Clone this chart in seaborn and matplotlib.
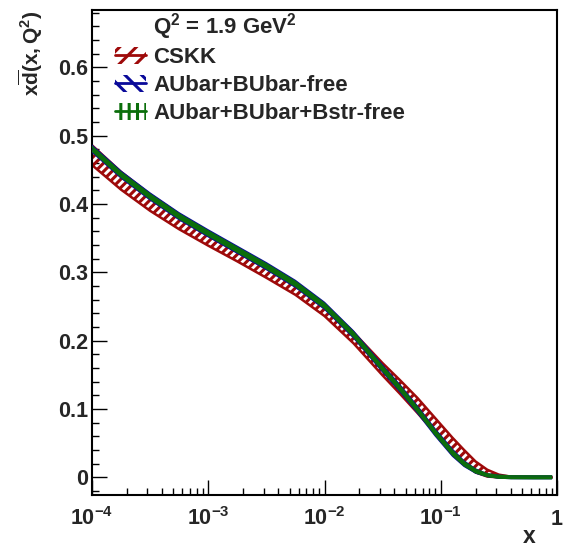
import matplotlib
matplotlib.use("Agg")
import numpy as np
import pandas as pd
import matplotlib.pyplot as plt
from matplotlib.patches import Patch
from matplotlib.lines import Line2D
from matplotlib.ticker import FixedLocator, FixedFormatter, LogLocator, NullFormatter, MultipleLocator
import seaborn as sns

# ---- data: xdbar(x, Q^2) at Q^2 = 1.9 GeV^2 ----
x_grid = [1e-4, 1.778e-4, 3.162e-4, 5.623e-4, 1e-3, 1.778e-3, 3.162e-3, 5.623e-3,
          0.01, 0.01778, 0.03162, 0.04467, 0.0631, 0.0891, 0.1259, 0.1585,
          0.1995, 0.2512, 0.3162, 0.3981, 0.631, 0.9]

cskk_central = [0.4715, 0.434, 0.402, 0.374, 0.349, 0.325, 0.301, 0.275,
                0.244, 0.204, 0.158, 0.132, 0.105, 0.076, 0.047, 0.030,
                0.015, 0.006, 0.0018, 0.0004, 0.0, 0.0]
cskk_err = [0.0145, 0.013, 0.012, 0.011, 0.010, 0.009, 0.009, 0.008,
            0.008, 0.008, 0.009, 0.010, 0.011, 0.011, 0.011, 0.010,
            0.008, 0.005, 0.002, 0.0006, 0.0, 0.0]

free_central = [0.481, 0.443, 0.411, 0.382, 0.357, 0.333, 0.309, 0.283,
                0.251, 0.209, 0.159, 0.130, 0.099, 0.066, 0.036, 0.020,
                0.009, 0.003, 0.0008, 0.0001, 0.0, 0.0]
free_err = [0.005, 0.005, 0.005, 0.005, 0.005, 0.005, 0.005, 0.005,
            0.005, 0.005, 0.005, 0.005, 0.005, 0.005, 0.005, 0.004,
            0.003, 0.002, 0.002, 0.002, 0.002, 0.002]

bstr_central = [0.481, 0.443, 0.411, 0.382, 0.357, 0.333, 0.309, 0.283,
                0.251, 0.209, 0.159, 0.130, 0.099, 0.066, 0.036, 0.020,
                0.009, 0.003, 0.0008, 0.0001, 0.0, 0.0]
bstr_err = [0.0035, 0.0035, 0.0035, 0.0035, 0.0035, 0.0035, 0.0035, 0.0035,
            0.0035, 0.0035, 0.0035, 0.0035, 0.0035, 0.0035, 0.0035, 0.003,
            0.0025, 0.002, 0.002, 0.002, 0.002, 0.002]

series_names = ["CSKK", "AUbar+BUbar-free", "AUbar+BUbar+Bstr-free"]
series_colors = ["#9e0a0a", "#0a0a9a", "#0b6e0b"]
series_hatches = ["//", "\\\\", "||"]

x_tick_values = [1e-4, 1e-3, 1e-2, 1e-1, 1]
x_tick_labels = [r"$10^{-4}$", r"$10^{-3}$", r"$10^{-2}$", r"$10^{-1}$", r"$1$"]
y_tick_values = [0, 0.1, 0.2, 0.3, 0.4, 0.5, 0.6]
y_tick_labels = ["0", "0.1", "0.2", "0.3", "0.4", "0.5", "0.6"]

header_text = r"Q$^{2}$ = 1.9 GeV$^{2}$"
y_title = r"$x\overline{d}(x,Q^{2})$"
x_title = "x"

# ---- style ----
sns.set_theme(style="ticks")
plt.rcParams["font.family"] = ["Liberation Sans", "DejaVu Sans"]
plt.rcParams["font.weight"] = "bold"
plt.rcParams["mathtext.fontset"] = "custom"
plt.rcParams["mathtext.rm"] = "Liberation Sans:bold"
plt.rcParams["mathtext.bf"] = "Liberation Sans:bold"
plt.rcParams["mathtext.it"] = "Liberation Sans:bold"
plt.rcParams["mathtext.default"] = "bf"
plt.rcParams["hatch.linewidth"] = 2.2
plt.rcParams["axes.linewidth"] = 1.5

fig = plt.figure(figsize=(5.63, 5.49), dpi=100)
ax = fig.add_axes([92 / 563, 1 - 495 / 549, 465 / 563, 485 / 549])

bands = pd.DataFrame({
    "x": x_grid * 3,
    "central": cskk_central + free_central + bstr_central,
    "err": cskk_err + free_err + bstr_err,
    "fit": sum([[n] * len(x_grid) for n in series_names], []),
})
bands["lo"] = bands["central"] - bands["err"]
bands["hi"] = bands["central"] + bands["err"]

for z, (name, color, hatch) in enumerate(zip(series_names, series_colors, series_hatches)):
    d = bands[bands["fit"] == name]
    if name == series_names[2]:
        ax.fill_between(d["x"], d["lo"], d["hi"], facecolor=color, edgecolor=color,
                        linewidth=0, zorder=2 + z)
        edge_lw = 1.0
    elif name == series_names[1]:
        ax.fill_between(d["x"], d["lo"], d["hi"], facecolor=color, edgecolor=color,
                        linewidth=0, zorder=2 + z)
        edge_lw = 1.0
    else:
        ax.fill_between(d["x"], d["lo"], d["hi"], facecolor="none", edgecolor=color,
                        hatch="////", linewidth=0, zorder=2 + z)
        edge_lw = 1.8
    for edge in ("lo", "hi"):
        sns.lineplot(data=d, x="x", y=edge, color=color, linewidth=edge_lw, ax=ax,
                     legend=False, zorder=2 + z, sort=False)

ax.set_xscale("log")
ax.set_xlim(1e-4, 1)
ax.set_ylim(-0.026, 0.684)

ax.xaxis.set_major_locator(FixedLocator(x_tick_values))
ax.xaxis.set_major_formatter(FixedFormatter(x_tick_labels))
ax.xaxis.set_minor_locator(LogLocator(base=10, subs=np.arange(2, 10)))
ax.xaxis.set_minor_formatter(NullFormatter())
ax.yaxis.set_major_locator(FixedLocator(y_tick_values))
ax.yaxis.set_major_formatter(FixedFormatter(y_tick_labels))
ax.yaxis.set_minor_locator(MultipleLocator(0.02))

ax.tick_params(axis="both", which="major", direction="in", length=10.5, width=1.0,
               labelsize=15.5, top=False, right=False, color="black")
ax.tick_params(axis="both", which="minor", direction="in", length=5, width=1.0,
               top=False, right=False, color="black")
ax.tick_params(axis="x", which="major", pad=21.5)
ax.tick_params(axis="y", which="major", pad=3)
for s in ax.spines.values():
    s.set_color("black")

ax.set_ylabel(y_title, fontsize=15, loc="top")
ax.yaxis.set_label_coords((45 - 92) / 465, 1.0)
ax.set_xlabel(x_title, fontsize=16.5, loc="right", fontweight="bold")
ax.xaxis.set_label_coords((536 - 92) / 465, (495 - 525) / 485)

# header line above the legend entries
fig.text(153 / 563, 1 - 33 / 549, header_text, fontsize=16, fontweight="bold",
         ha="left", va="baseline")

handles = []
for color, hatch in zip(series_colors, series_hatches):
    handles.append((Patch(facecolor="none", edgecolor=color, hatch=hatch, linewidth=0),
                    Line2D([], [], color=color, linewidth=2)))
leg = ax.legend(handles, series_names, loc="upper left",
                bbox_to_anchor=(115 / 563, 1 - 46.5 / 549), bbox_transform=fig.transFigure,
                frameon=False, fontsize=16, handlelength=1.4, handleheight=0.8,
                handletextpad=0.32, labelspacing=0.31, borderpad=0, borderaxespad=0)
for t in leg.get_texts():
    t.set_fontweight("bold")

fig.canvas.draw()
for lab in ax.get_xticklabels():
    lab.set_va("baseline")

fig.savefig("out.png", dpi=100)
